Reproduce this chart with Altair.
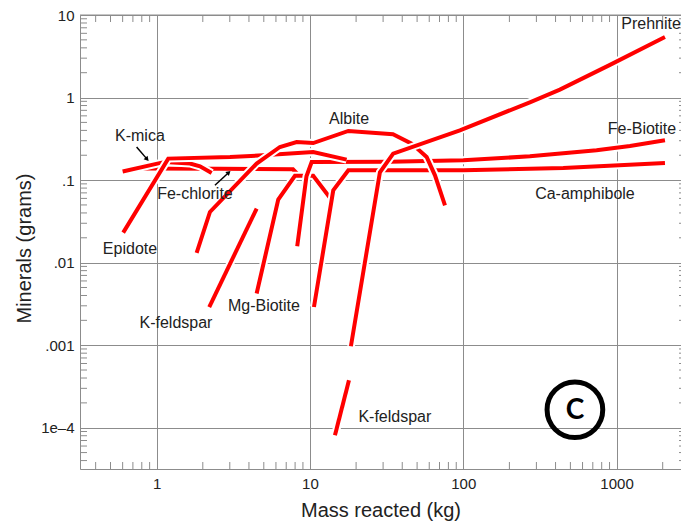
import altair as alt
import pandas as pd

W, H = 601, 454
X_DOMAIN = [10 ** -0.5, 10 ** 3.4204]
Y_DOMAIN = [10 ** -4.5, 10]
GRAY = "#8c8c8c"
FONT = "Liberation Sans"

# axis ticks / labels
x_ticks = [1, 10, 100, 1000]
x_tick_labels = ["1", "10", "100", "1000"]
y_ticks = [10, 1, 0.1, 0.01, 0.001, 0.0001]
y_tick_labels = ["10", "1", ".1", ".01", ".001", "1e\u20134"]

# series (drawing order bottom -> top)
fechl_x = [0.778, 2.588, 7.75, 8.35]
fechl_y = [0.138, 0.137, 0.135, 0.1175]
kmica_x = [0.600, 1.133, 1.649, 1.917, 2.285]
kmica_y = [0.127, 0.166, 0.159, 0.147, 0.122]
mgbio_x = [4.49, 6.21, 7.98, 9.28, 10.5, 13.9]
mgbio_y = [0.00422, 0.058, 0.1127, 0.1127, 0.1127, 0.0569]
kfel1_x = [2.203, 4.49]
kfel1_y = [0.0029, 0.0452]
febio_x = [8.26, 9.49, 10.26, 33.3, 100, 272, 741, 1223, 2069]
febio_y = [0.0158, 0.111, 0.1656, 0.1667, 0.1738, 0.194, 0.2296, 0.259, 0.3034]
caamp_x = [10.62, 14.19, 17.8, 100, 449, 2069]
caamp_y = [0.0029, 0.0752, 0.1316, 0.1316, 0.140, 0.161]
epid_x = [0.605, 1.19, 3.01, 4.94, 10.5, 17.35]
epid_y = [0.0231, 0.182, 0.1905, 0.1998, 0.219, 0.177]
albite_x = [1.823, 2.227, 4.49, 6.37, 8.19, 10.5, 17.8, 34.8, 46.1, 57.7, 65.4, 76.0]
albite_y = [0.0131, 0.0411, 0.1585, 0.252, 0.289, 0.281, 0.3935, 0.359, 0.2768, 0.1905, 0.1143, 0.0495]
preh_x = [18.5, 28.6, 34.9, 95.1, 272, 427, 906, 2069]
preh_y = [0.00097, 0.1243, 0.2094, 0.401, 0.876, 1.248, 2.49, 5.41]
kfel2_x = [14.56, 17.97]
kfel2_y = [8.1e-5, 3.76e-4]

series = [
    (fechl_x, fechl_y), (kmica_x, kmica_y), (mgbio_x, mgbio_y), (kfel1_x, kfel1_y),
    (febio_x, febio_y), (caamp_x, caamp_y), (epid_x, epid_y), (albite_x, albite_y),
    (preh_x, preh_y), (kfel2_x, kfel2_y),
]

# annotations
label_text = ["K-mica", "Fe-chlorite", "Epidote", "Albite", "Prehnite", "Fe-Biotite",
              "Ca-amphibole", "Mg-Biotite", "K-feldspar", "K-feldspar"]
label_x = [0.778, 1.778, 0.67, 18.0, 1680, 1465, 622, 5.01, 1.336, 35.8]
label_y = [0.34, 0.0673, 0.0145, 0.545, 7.71, 0.412, 0.0673, 0.00296, 0.00184, 1.34e-4]

arrow_x = [0.740, 2.40]
arrow_y = [0.252, 0.0865]
arrow_x2 = [0.860, 2.93]
arrow_y2 = [0.182, 0.122]
arrow_angle = [139, 47]

circle_x = [535]
circle_y = [1.65e-4]
circle_text = ["C"]

x_minor = [k * 10 ** d for d in range(-1, 4) for k in range(2, 10)
           if X_DOMAIN[0] < k * 10 ** d < X_DOMAIN[1]]
y_minor = [k * 10 ** d for d in range(-5, 1) for k in range(2, 10)
           if Y_DOMAIN[0] < k * 10 ** d < Y_DOMAIN[1]]


def label_expr(vals, labs):
    e = "''"
    for v, l in reversed(list(zip(vals, labs))):
        e = f"abs(datum.value / {v} - 1) < 1e-6 ? '{l}' : ({e})"
    return e


X_AXIS = alt.Axis(values=x_ticks, labelExpr=label_expr(x_ticks, x_tick_labels), grid=True,
                  gridColor=GRAY, gridOpacity=1, gridWidth=1, ticks=False, tickSize=0,
                  domainColor=GRAY, labelFontSize=15, labelFont=FONT, labelColor="#222",
                  labelPadding=7, labelFlush=False, labelOverlap=False,
                  titleFontSize=20, titleFont=FONT,
                  titleFontWeight="normal", titleColor="#222", titleY=41, titleBaseline="middle")
Y_AXIS = alt.Axis(values=y_ticks, labelExpr=label_expr(y_ticks, y_tick_labels), grid=True,
                  gridColor=GRAY, gridOpacity=1, gridWidth=1, ticks=False, tickSize=0,
                  domainColor=GRAY, labelFontSize=15, labelFont=FONT, labelColor="#222",
                  labelPadding=6, labelFlush=False, labelOverlap=False,
                  titleFontSize=20, titleFont=FONT,
                  titleFontWeight="normal", titleColor="#222", titleX=-56, titleY=233,
                  titleBaseline="middle")
X_TITLE = "Mass reacted (kg)"
Y_TITLE = "Minerals (grams)"


def xs(field="x"):
    return alt.X(f"{field}:Q", scale=alt.Scale(type="log", domain=X_DOMAIN, nice=False),
                 axis=X_AXIS, title=X_TITLE)


def ys(field="y"):
    return alt.Y(f"{field}:Q", scale=alt.Scale(type="log", domain=Y_DOMAIN, nice=False),
                 axis=Y_AXIS, title=Y_TITLE)


one = pd.DataFrame({"x": [1.0], "y": [1.0]})
layers = []
layers.append(alt.Chart(one).mark_point(opacity=0).encode(x=xs(), y=ys()))

xm = pd.DataFrame({"x": x_minor})
ym = pd.DataFrame({"y": y_minor})
layers.append(alt.Chart(xm).mark_rule(color=GRAY).encode(x=xs(), y=alt.value(H), y2=alt.value(H - 7)))
layers.append(alt.Chart(xm).mark_rule(color=GRAY).encode(x=xs(), y=alt.value(0), y2=alt.value(7)))
layers.append(alt.Chart(ym).mark_rule(color=GRAY).encode(y=ys(), x=alt.value(0), x2=alt.value(7)))
layers.append(alt.Chart(ym).mark_rule(color=GRAY).encode(y=ys(), x=alt.value(W - 2), x2=alt.value(W)))
layers.append(alt.Chart(one).mark_rule(color=GRAY).encode(x=alt.value(0), x2=alt.value(W), y=alt.value(0)))

for sx, sy in series:
    df = pd.DataFrame({"x": sx, "y": sy, "i": list(range(len(sx)))})
    layers.append(alt.Chart(df).mark_line(color="white", strokeWidth=8, strokeCap="butt")
                  .encode(x=xs(), y=ys(), order="i:Q"))
    layers.append(alt.Chart(df).mark_line(color="#ff0000", strokeWidth=4, strokeCap="butt")
                  .encode(x=xs(), y=ys(), order="i:Q"))

lab = pd.DataFrame({"x": label_x, "y": label_y, "t": label_text})
layers.append(alt.Chart(lab).mark_text(fontSize=16, font=FONT, color="#222")
              .encode(x=xs(), y=ys(), text="t:N"))

arr = pd.DataFrame({"x": arrow_x, "y": arrow_y, "x2": arrow_x2, "y2": arrow_y2, "a": arrow_angle})
layers.append(alt.Chart(arr).mark_rule(color="black", strokeWidth=1.5)
              .encode(x=xs(), y=ys(), x2="x2:Q", y2="y2:Q"))
layers.append(alt.Chart(arr).mark_point(shape="triangle", filled=True, color="black", size=28, opacity=1)
              .encode(x=xs("x2"), y=ys("y2"), angle=alt.Angle("a:Q", scale=None)))

circ = pd.DataFrame({"x": circle_x, "y": circle_y, "t": circle_text})
layers.append(alt.Chart(circ).mark_point(shape="circle", filled=False, size=3100, strokeWidth=5,
                                         color="black", opacity=1)
              .encode(x=xs(), y=ys()))
layers.append(alt.Chart(circ).mark_text(font="Lato", fontWeight="bold", fontSize=28, color="black",
                                        baseline="middle", dy=1)
              .encode(x=xs(), y=ys(), text="t:N"))

chart = alt.layer(*layers).properties(
    width=W, height=H,
    padding={"left": 72, "top": 7, "right": 0, "bottom": 56},
    autosize=alt.AutoSizeParams(type="none"),
).configure_view(stroke=None).configure(background="white")

chart.save("out.html", embed_options={"renderer": "svg", "actions": False})
